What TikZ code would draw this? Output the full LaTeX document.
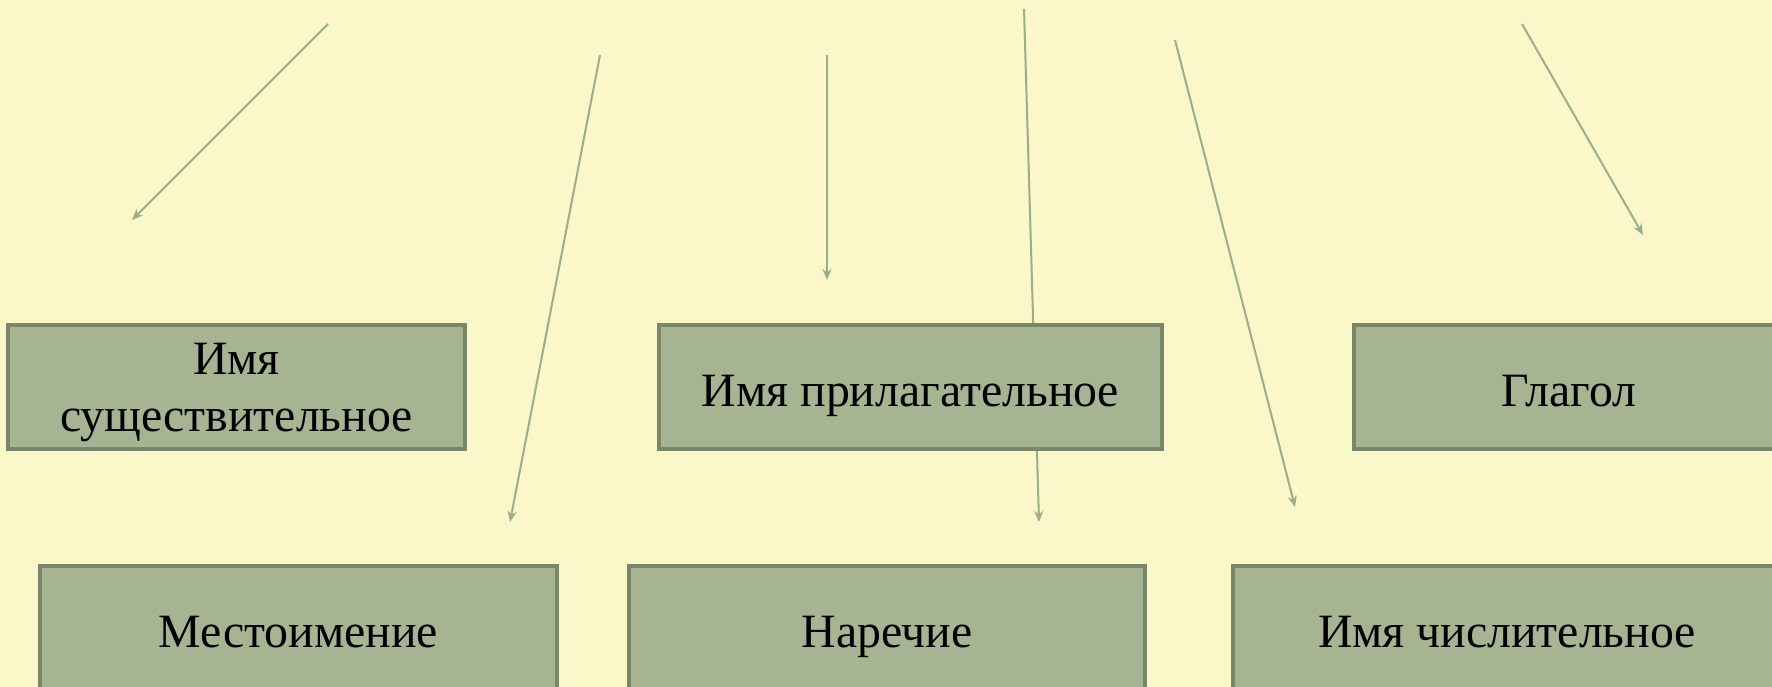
\documentclass[tikz,border=0pt]{standalone}
\usepackage{fontspec}
\setmainfont{Liberation Serif}
\usetikzlibrary{arrows.meta}
\definecolor{paper}{RGB}{250,247,201}
\definecolor{boxfill}{RGB}{166,180,146}
\definecolor{boxline}{RGB}{122,134,106}
\definecolor{arrowline}{RGB}{155,174,140}
\tikzset{
	part/.style={draw=boxline, fill=boxfill, line width=0.45mm, inner sep=0pt, minimum height=12.4mm, align=center, font=\fontsize{13.6}{16.2}\selectfont},
	oneline/.style={part, text height=3.8mm, text depth=0pt},
	pointer/.style={draw=arrowline, line width=0.2mm, -{Stealth[length=1.1mm, width=0.9mm, inset=0.35mm]}}
}

\begin{document}
\begin{tikzpicture}[x=0.1mm, y=-0.1mm]
		%%%%% START %%%%%
		
		\useasboundingbox (0, 0) rectangle (1772, 687);
		\clip (0, 0) rectangle (1772, 687);
		\fill[paper] (0, 0) rectangle (1772, 687);
		
		\coordinate (s1) at (328, 24);   \coordinate (e1) at (132, 220);
		\coordinate (s2) at (600, 55);   \coordinate (e2) at (510, 522);
		\coordinate (s3) at (827, 55);   \coordinate (e3) at (827, 280);
		\coordinate (s4) at (1024, 9);   \coordinate (e4) at (1039, 522);
		\coordinate (s5) at (1175, 40);  \coordinate (e5) at (1295, 507);
		\coordinate (s6) at (1522, 24);  \coordinate (e6) at (1643, 235);
		
		\foreach \i in {1,...,6}
			\draw[pointer] (s\i) -- (e\i);
		
		\node[part, minimum width=45.7mm] (noun) at (236.5, 387) {\rule{0pt}{4.3mm}Имя\\существительное};
		\node[oneline, minimum width=50.3mm] (adjective) at (910.5, 387) {Имя прилагательное};
		\node[oneline, minimum width=43mm] (verb) at (1569, 387) {Глагол};
		
		\node[oneline, minimum width=51.7mm] (pronoun) at (298.5, 628) {Местоимение};
		\node[oneline, minimum width=51.6mm] (adverb) at (887, 628) {Наречие};
		\node[oneline, minimum width=54.8mm] (numeral) at (1507, 628) {Имя числительное};
		
		%%%%% END %%%%%
\end{tikzpicture}
\end{document}
